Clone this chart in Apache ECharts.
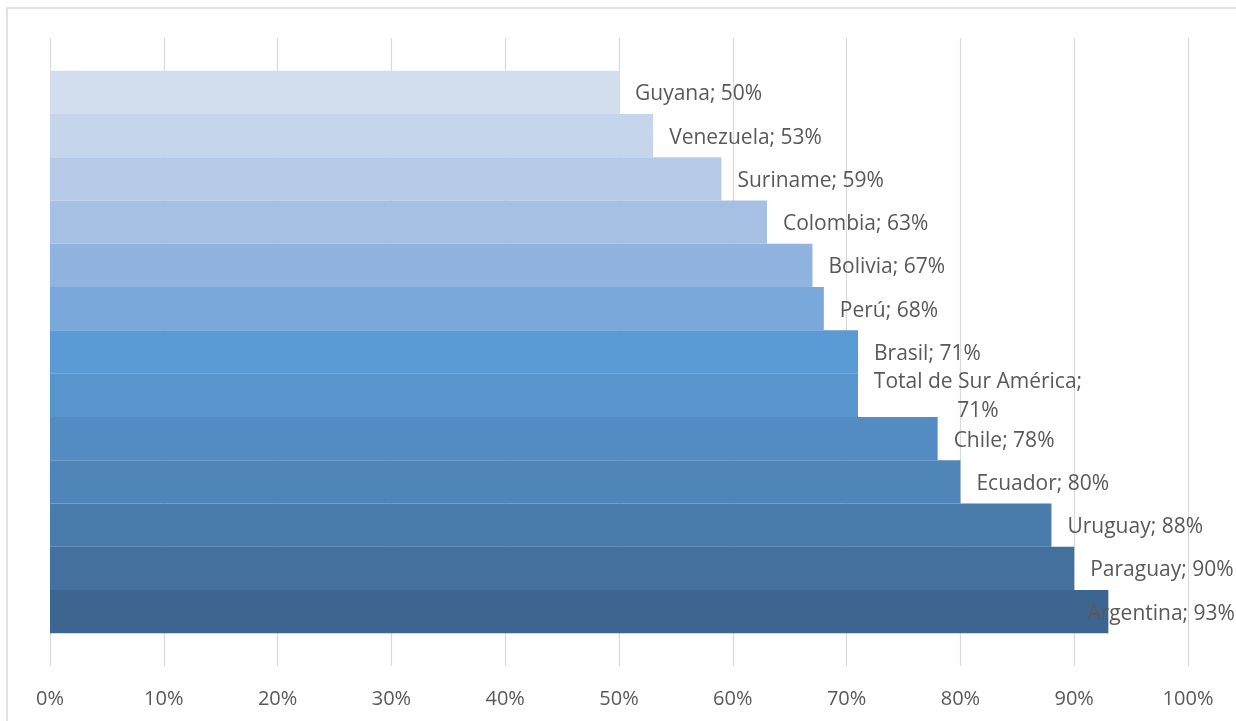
<!DOCTYPE html>
<html>
<head>
<meta charset="utf-8">
<script src="https://cdn.jsdelivr.net/npm/echarts@6/dist/echarts.min.js"></script>
<style>
  html, body { margin: 0; padding: 0; background: #ffffff; }
  #chart { width: 1236px; height: 721px; }
</style>
</head>
<body>
<div id="chart"></div>
<script>
// Countries, top to bottom
const countries = ['Guyana', 'Venezuela', 'Suriname', 'Colombia', 'Bolivia', 'Perú', 'Brasil',
  'Total de Sur América', 'Chile', 'Ecuador', 'Uruguay', 'Paraguay', 'Argentina'];
// Share in percent
const values = [50, 53, 59, 63, 67, 68, 71, 71, 78, 80, 88, 90, 93];
// Bar colours, light to dark
const colors = ['#d2ddee', '#c5d5eb', '#b5cae7', '#a5c0e3', '#91b3df', '#7ba8da', '#5b9bd5',
  '#5795cc', '#538cc2', '#4f85b8', '#497bab', '#43709d', '#3c6690'];
const xTicks = [0, 10, 20, 30, 40, 50, 60, 70, 80, 90, 100];

const textColor = '#595959';
const fontFamily = 'Open Sans';

const series = countries.map((name, i) => {
  const label = {
    show: true,
    position: 'right',
    distance: 16,
    offset: [0, 2],
    color: textColor,
    fontFamily: fontFamily,
    fontSize: 21,
    formatter: p => p.seriesName + '; ' + p.value + '%'
  };
  if (name === 'Total de Sur América') {
    // wrapped over two centred lines
    label.formatter = p => p.seriesName + ';\n' + p.value + '%';
    label.align = 'center';
    label.offset = [104, 1];
    label.lineHeight = 29;
  }
  if (name === 'Argentina') {
    // pulled back so it stays inside the chart
    label.distance = -21;
  }
  return {
    name: name,
    type: 'bar',
    data: [values[i]],
    itemStyle: { color: colors[i] },
    barGap: '0%',
    barCategoryGap: '10.4%',
    label: label,
    silent: true
  };
});

const chart = echarts.init(document.getElementById('chart'), null, { renderer: 'canvas' });
chart.setOption({
  animation: false,
  backgroundColor: '#ffffff',
  graphic: [{
    type: 'rect',
    shape: { x: 7, y: 8, width: 1260, height: 760 },
    style: { fill: null, stroke: '#d9d9d9', lineWidth: 1.5 },
    silent: true
  }],
  grid: { left: 50, right: 48, top: 38, bottom: 55, containLabel: false },
  xAxis: {
    type: 'value',
    min: xTicks[0],
    max: xTicks[xTicks.length - 1],
    interval: 10,
    axisLine: { show: false },
    axisTick: { show: false },
    splitLine: { show: true, lineStyle: { color: '#d9d9d9', width: 1.2 } },
    axisLabel: {
      color: textColor,
      fontFamily: fontFamily,
      fontSize: 20,
      margin: 23,
      formatter: v => v + '%'
    }
  },
  yAxis: {
    type: 'category',
    data: [''],
    inverse: true,
    axisLine: { show: false },
    axisTick: { show: false },
    axisLabel: { show: false },
    splitLine: { show: false }
  },
  series: series
});
</script>
</body>
</html>
